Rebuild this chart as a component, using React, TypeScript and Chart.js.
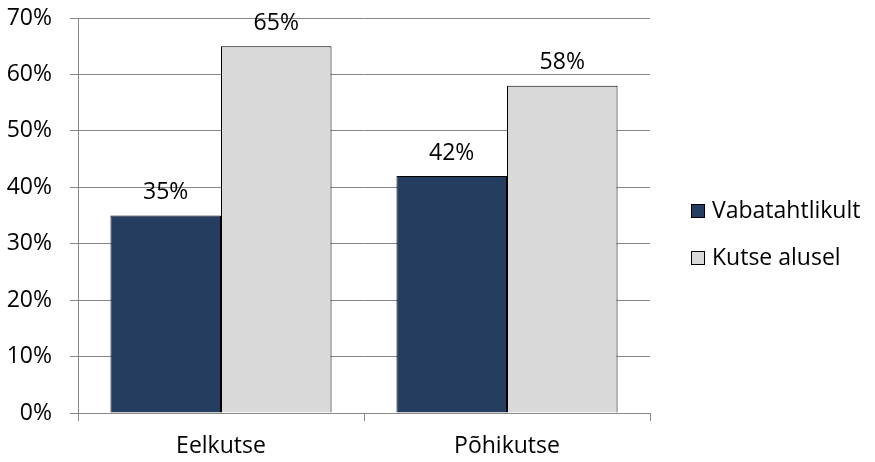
import React, { useEffect, useRef } from "react";
import { Chart, registerables } from "chart.js";

Chart.register(...registerables);

const categories = ["Eelkutse", "Põhikutse"];
const seriesNames = ["Vabatahtlikult", "Kutse alusel"];
const vabatahtlikult = [35, 42];
const kutseAlusel = [65, 58];
const seriesColors = ["#253D5E", "#D9D9D9"];
const yTicks = [0, 10, 20, 30, 40, 50, 60, 70];

const FONT = "'Open Sans', 'Noto Sans', sans-serif";
const FONT_SIZE = 23;
const GRID = "#878787";

const labelsPlugin = {
  id: "barLabels",
  afterDatasetsDraw(chart: any) {
    const ctx = chart.ctx;
    ctx.save();
    ctx.font = `${FONT_SIZE}px ${FONT}`;
    ctx.fillStyle = "#000";
    ctx.textAlign = "center";
    ctx.textBaseline = "middle";
    chart.data.datasets.forEach((ds: any, di: number) => {
      const meta = chart.getDatasetMeta(di);
      meta.data.forEach((bar: any, i: number) => {
        ctx.fillText(`${ds.data[i]}%`, bar.x, bar.y - 23);
      });
    });
    ctx.restore();
  },
};

const legendPlugin = {
  id: "sideLegend",
  afterDraw(chart: any) {
    const ctx = chart.ctx;
    ctx.save();
    ctx.font = `${FONT_SIZE}px ${FONT}`;
    ctx.textBaseline = "middle";
    ctx.textAlign = "left";
    const x0 = 691;
    const ys = [211, 258];
    chart.data.datasets.forEach((ds: any, i: number) => {
      const y = ys[i];
      ctx.fillStyle = ds.backgroundColor;
      ctx.fillRect(x0 + 0.5, y - 6.5, 13, 13);
      ctx.strokeStyle = "#000";
      ctx.lineWidth = 1;
      ctx.strokeRect(x0 + 0.5, y - 6.5, 13, 13);
      ctx.fillStyle = "#000";
      ctx.fillText(ds.label, x0 + 21, y);
    });
    ctx.restore();
  },
};

export default function App() {
  const ref = useRef<HTMLCanvasElement>(null);
  useEffect(() => {
    if (!ref.current) return;
    const chart = new Chart(ref.current, {
      type: "bar",
      data: {
        labels: categories,
        datasets: [
          {
            label: seriesNames[0],
            data: vabatahtlikult,
            backgroundColor: seriesColors[0],
            borderColor: "#000",
            borderWidth: 1,
          },
          {
            label: seriesNames[1],
            data: kutseAlusel,
            backgroundColor: seriesColors[1],
            borderColor: "#000",
            borderWidth: 1,
          },
        ],
      },
      options: {
        responsive: false,
        animation: false,
        layout: { padding: { left: 0, top: 18, right: 225, bottom: 0 } },
        datasets: {
          bar: { barPercentage: 1, categoryPercentage: 0.773 },
        },
        plugins: {
          legend: { display: false },
          tooltip: { enabled: false },
        },
        scales: {
          x: {
            grid: {
              offset: true,
              drawOnChartArea: false,
              drawTicks: true,
              tickLength: 8,
              color: GRID,
            },
            border: { color: GRID, width: 1 },
            ticks: {
              font: { family: FONT, size: FONT_SIZE },
              color: "#000",
              padding: 12,
            },
            afterFit(scale: any) {
              scale.height = 49;
              scale.paddingLeft = 0;
              scale.paddingRight = 0;
            },
          },
          y: {
            min: 0,
            max: 70,
            afterBuildTicks(scale: any) {
              scale.ticks = yTicks.map((v) => ({ value: v }));
            },
            grid: { color: GRID, tickLength: 8 },
            border: { color: GRID, width: 1 },
            ticks: {
              font: { family: FONT, size: FONT_SIZE },
              color: "#000",
              padding: 18,
              callback: (v: any) => `${v}%`,
            },
            afterFit(scale: any) {
              scale.width = 78;
              scale.paddingTop = 0;
              scale.paddingBottom = 0;
            },
          },
        },
      },
      plugins: [labelsPlugin, legendPlugin],
    });
    return () => chart.destroy();
  }, []);
  return (
    <div style={{ position: "fixed", left: 0, top: 0, width: 875, height: 462, background: "#fff" }}>
      <canvas ref={ref} width={875} height={462} style={{ display: "block" }} />
    </div>
  );
}
